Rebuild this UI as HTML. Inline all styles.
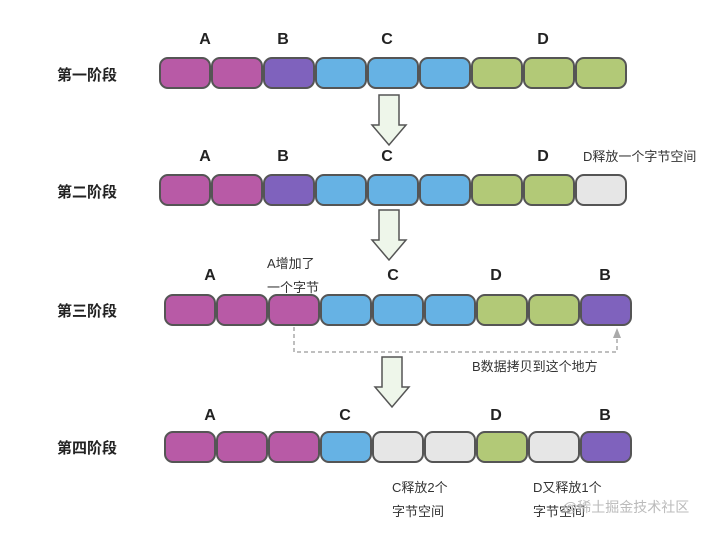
<!DOCTYPE html>
<html><head><meta charset="utf-8"><style>
html,body{margin:0;padding:0;background:#fff;}
svg{display:block;}
.l{font-family:"Liberation Sans",sans-serif;font-weight:bold;font-size:16px;fill:#222;text-anchor:middle;}
.s{font-family:"Liberation Sans","Noto Sans CJK SC",sans-serif;font-weight:bold;font-size:15px;fill:#222;}
.t{font-family:"Liberation Sans","Noto Sans CJK SC",sans-serif;font-size:13px;fill:#333;}
.b rect{stroke:#555;stroke-width:2;}
</style></head><body>
<svg width="710" height="533" viewBox="0 0 710 533" xmlns="http://www.w3.org/2000/svg">
<defs>
<g id="arr"><polygon points="-10,0 10,0 10,30 17,30 0,50 -17,30 -10,30" fill="#eef6ea" stroke="#555" stroke-width="1.5"/></g>
</defs>
<!-- Row 1 -->
<text class="s" x="57" y="80">第一阶段</text>
<text class="l" x="205" y="44">A</text><text class="l" x="283" y="44">B</text><text class="l" x="387" y="44">C</text><text class="l" x="543" y="44">D</text>
<g class="b">
<rect x="160" y="58" width="50" height="30" rx="8" fill="#b85aa6"/>
<rect x="212" y="58" width="50" height="30" rx="8" fill="#b85aa6"/>
<rect x="264" y="58" width="50" height="30" rx="8" fill="#7f62bd"/>
<rect x="316" y="58" width="50" height="30" rx="8" fill="#66b2e4"/>
<rect x="368" y="58" width="50" height="30" rx="8" fill="#66b2e4"/>
<rect x="420" y="58" width="50" height="30" rx="8" fill="#66b2e4"/>
<rect x="472" y="58" width="50" height="30" rx="8" fill="#b2c977"/>
<rect x="524" y="58" width="50" height="30" rx="8" fill="#b2c977"/>
<rect x="576" y="58" width="50" height="30" rx="8" fill="#b2c977"/>
</g>
<use href="#arr" x="389" y="95"/>
<!-- Row 2 -->
<text class="s" x="57" y="197">第二阶段</text>
<text class="l" x="205" y="161">A</text><text class="l" x="283" y="161">B</text><text class="l" x="387" y="161">C</text><text class="l" x="543" y="161">D</text>
<text class="t" x="583" y="161">D释放一个字节空间</text>
<g class="b">
<rect x="160" y="175" width="50" height="30" rx="8" fill="#b85aa6"/>
<rect x="212" y="175" width="50" height="30" rx="8" fill="#b85aa6"/>
<rect x="264" y="175" width="50" height="30" rx="8" fill="#7f62bd"/>
<rect x="316" y="175" width="50" height="30" rx="8" fill="#66b2e4"/>
<rect x="368" y="175" width="50" height="30" rx="8" fill="#66b2e4"/>
<rect x="420" y="175" width="50" height="30" rx="8" fill="#66b2e4"/>
<rect x="472" y="175" width="50" height="30" rx="8" fill="#b2c977"/>
<rect x="524" y="175" width="50" height="30" rx="8" fill="#b2c977"/>
<rect x="576" y="175" width="50" height="30" rx="8" fill="#e6e6e6"/>
</g>
<use href="#arr" x="389" y="210"/>
<!-- Row 3 -->
<text class="s" x="57" y="316">第三阶段</text>
<text class="l" x="210" y="280">A</text><text class="l" x="393" y="280">C</text><text class="l" x="496" y="280">D</text><text class="l" x="605" y="280">B</text>
<text class="t" x="267" y="268">A增加了</text>
<text class="t" x="267" y="292">一个字节</text>
<g class="b">
<rect x="165" y="295" width="50" height="30" rx="8" fill="#b85aa6"/>
<rect x="217" y="295" width="50" height="30" rx="8" fill="#b85aa6"/>
<rect x="269" y="295" width="50" height="30" rx="8" fill="#b85aa6"/>
<rect x="321" y="295" width="50" height="30" rx="8" fill="#66b2e4"/>
<rect x="373" y="295" width="50" height="30" rx="8" fill="#66b2e4"/>
<rect x="425" y="295" width="50" height="30" rx="8" fill="#66b2e4"/>
<rect x="477" y="295" width="50" height="30" rx="8" fill="#b2c977"/>
<rect x="529" y="295" width="50" height="30" rx="8" fill="#b2c977"/>
<rect x="581" y="295" width="50" height="30" rx="8" fill="#7f62bd"/>
</g>
<polyline points="294,327 294,352 617,352 617,336" fill="none" stroke="#aaa" stroke-width="1.5" stroke-dasharray="4,3"/>
<polygon points="617,328 613,338 621,338" fill="#aaa"/>
<text class="t" x="472" y="371">B数据拷贝到这个地方</text>
<use href="#arr" x="392" y="357"/>
<!-- Row 4 -->
<text class="s" x="57" y="453">第四阶段</text>
<text class="l" x="210" y="420">A</text><text class="l" x="345" y="420">C</text><text class="l" x="496" y="420">D</text><text class="l" x="605" y="420">B</text>
<g class="b">
<rect x="165" y="432" width="50" height="30" rx="8" fill="#b85aa6"/>
<rect x="217" y="432" width="50" height="30" rx="8" fill="#b85aa6"/>
<rect x="269" y="432" width="50" height="30" rx="8" fill="#b85aa6"/>
<rect x="321" y="432" width="50" height="30" rx="8" fill="#66b2e4"/>
<rect x="373" y="432" width="50" height="30" rx="8" fill="#e6e6e6"/>
<rect x="425" y="432" width="50" height="30" rx="8" fill="#e6e6e6"/>
<rect x="477" y="432" width="50" height="30" rx="8" fill="#b2c977"/>
<rect x="529" y="432" width="50" height="30" rx="8" fill="#e6e6e6"/>
<rect x="581" y="432" width="50" height="30" rx="8" fill="#7f62bd"/>
</g>
<text class="t" x="392" y="492">C释放2个</text>
<text class="t" x="392" y="516">字节空间</text>
<text class="t" x="533" y="492">D又释放1个</text>
<text class="t" x="533" y="516">字节空间</text>
<text x="563" y="512" style="font-family:'Liberation Sans','Noto Sans CJK SC',sans-serif;font-size:14px;fill:#bbb;">@稀土掘金技术社区</text>
</svg>
</body></html>
